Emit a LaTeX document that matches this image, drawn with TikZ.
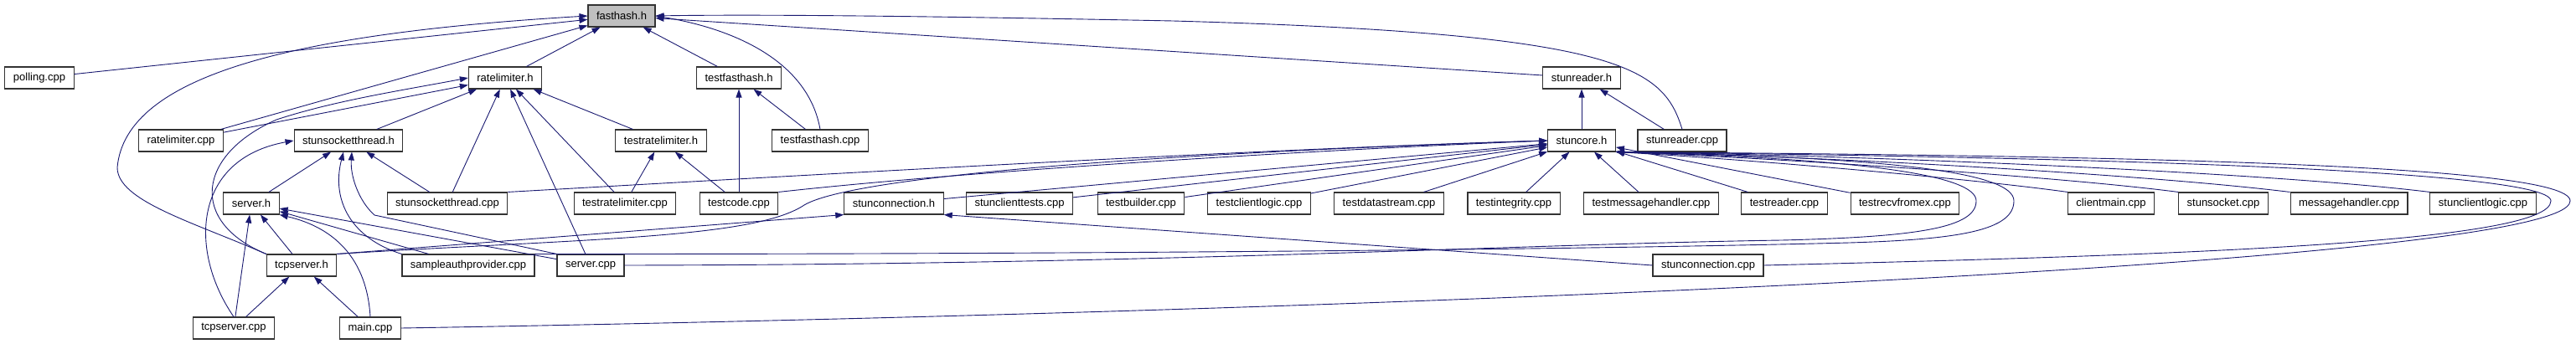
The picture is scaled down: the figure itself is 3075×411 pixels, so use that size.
\documentclass[tikz,border=0pt]{standalone}
\usepackage{fontspec}
\setmainfont{Liberation Sans}
\usetikzlibrary{arrows.meta}
\definecolor{depblue}{HTML}{191970}
\tikzset{
  file/.style={draw=black!80,line width=1.1pt,fill=white,minimum height=26pt,
    inner xsep=10pt,inner ysep=0pt,font=\fontsize{13}{15}\selectfont},
  cur/.style={file,fill=black!25},
  dep/.style={draw=depblue,line width=0.9pt,-{Triangle[length=10pt,width=7pt]}},
}

\begin{document}
\begin{tikzpicture}[x=1pt,y=-1pt]
  \useasboundingbox (0,0) rectangle (3075,411);

  \node[cur]  (fasthash) at (742,19) {fasthash.h};

  \node[file] (polling)   at (47,93)   {polling.cpp};
  \node[file] (ratelimh)  at (603,93)  {ratelimiter.h};
  \node[file] (testfhh)   at (882,93)  {testfasthash.h};
  \node[file] (stunreadh) at (1888,93) {stunreader.h};

  \node[file] (ratelimcpp)  at (216,168)  {ratelimiter.cpp};
  \node[file] (sockthrh)    at (416,168)  {stunsocketthread.h};
  \node[file] (testrlh)     at (789,168)  {testratelimiter.h};
  \node[file] (testfhcpp)   at (979,168)  {testfasthash.cpp};
  \node[file] (stuncore)    at (1888,168) {stuncore.h};
  \node[file] (stunreadcpp) at (2008,168) {stunreader.cpp};

  \node[file] (serverh)         at (300,243)  {server.h};
  \node[file] (sockthrcpp)      at (534,243)  {stunsocketthread.cpp};
  \node[file] (testrlcpp)       at (746,243)  {testratelimiter.cpp};
  \node[file] (testcode)        at (882,243)  {testcode.cpp};
  \node[file] (stunconnh)       at (1067,243) {stunconnection.h};
  \node[file] (clienttests)     at (1217,243) {stunclienttests.cpp};
  \node[file] (testbuilder)     at (1362,243) {testbuilder.cpp};
  \node[file] (testclientlogic) at (1503,243) {testclientlogic.cpp};
  \node[file] (testdatastream)  at (1658,243) {testdatastream.cpp};
  \node[file] (testintegrity)   at (1807,243) {testintegrity.cpp};
  \node[file] (testmsghandler)  at (1971,243) {testmessagehandler.cpp};
  \node[file] (testreader)      at (2130,243) {testreader.cpp};
  \node[file] (testrecv)        at (2274,243) {testrecvfromex.cpp};
  \node[file] (clientmain)      at (2520,243) {clientmain.cpp};
  \node[file] (stunsocket)      at (2654,243) {stunsocket.cpp};
  \node[file] (msghandler)      at (2804,243) {messagehandler.cpp};
  \node[file] (clientlogic)     at (2964,243) {stunclientlogic.cpp};

  \node[file] (tcpserverh)  at (360,317)  {tcpserver.h};
  \node[file] (sampleauth)  at (559,317)  {sampleauthprovider.cpp};
  \node[file] (servercpp)   at (705,317)  {server.cpp};
  \node[file] (stunconncpp) at (2039,317) {stunconnection.cpp};

  \node[file] (tcpservercpp) at (279,392) {tcpserver.cpp};
  \node[file] (maincpp)      at (442,392) {main.cpp};

  % fasthash.h
  \draw[dep] (polling) -- (fasthash);
  \draw[dep] (ratelimcpp) -- (fasthash);
  \draw[dep] (ratelimh) -- (fasthash);
  \draw[dep] (testfhh) -- (fasthash);
  \draw[dep] (stunreadh) -- (fasthash);
  \draw[dep] (tcpserverh.north west) .. controls (230,265) and (140,240) .. (140,200)
    .. controls (150,90) and (350,40) .. (fasthash.west);
  \draw[dep] (testfhcpp.north) .. controls (965,75) and (880,35) .. (fasthash.east);
  \draw[dep] (stunreadcpp.north) .. controls (1985,80) and (1935,40) .. (1400,25)
    .. controls (1100,19) and (900,17) .. (fasthash.east);

  % ratelimiter.h
  \draw[dep] (ratelimcpp) -- (ratelimh);
  \draw[dep] (sockthrh) -- (ratelimh);
  \draw[dep] (sockthrcpp) -- (ratelimh);
  \draw[dep] (servercpp) -- (ratelimh);
  \draw[dep] (testrlcpp) -- (ratelimh);
  \draw[dep] (testrlh) -- (ratelimh);
  \draw[dep] (tcpserverh.north west) .. controls (225,265) and (235,185) .. (330,143)
    .. controls (400,120) and (480,108) .. (ratelimh.west);

  % tests
  \draw[dep] (testrlcpp) -- (testrlh);
  \draw[dep] (testcode) -- (testrlh);
  \draw[dep] (testcode) -- (testfhh);
  \draw[dep] (testfhcpp) -- (testfhh);

  % stunsocketthread.h
  \draw[dep] (sockthrcpp) -- (sockthrh);
  \draw[dep] (serverh) -- (sockthrh);
  \draw[dep] (sampleauth.north west) .. controls (420,285) and (395,240)
    .. ([xshift=-6pt]sockthrh.south);
  \draw[dep] (servercpp.north west) -- (447,257) .. controls (428,240) and (418,210)
    .. ([xshift=4pt]sockthrh.south);
  \draw[dep] (tcpservercpp.north) .. controls (225,300) and (230,190) .. (sockthrh.west);

  % server.h, tcpserver.h
  \draw[dep] (tcpservercpp) -- (serverh);
  \draw[dep] (tcpserverh) -- (serverh);
  \draw[dep] (sampleauth) -- (serverh);
  \draw[dep] (servercpp) -- (serverh);
  \draw[dep] (maincpp.north) .. controls (438,310) and (400,272) .. (serverh.south east);
  \draw[dep] (tcpservercpp) -- (tcpserverh);
  \draw[dep] (maincpp) -- (tcpserverh);

  % stunreader.h, stunconnection.h
  \draw[dep] (stuncore) -- (stunreadh);
  \draw[dep] (stunreadcpp) -- (stunreadh);
  \draw[dep] (tcpserverh.north east) -- (stunconnh.south west);
  \draw[dep] (stunconncpp.west) -- (stunconnh.south east);

  % stuncore.h
  \draw[dep] (tcpserverh.north east) .. controls (700,285) and (900,285) .. (960,245)
    .. controls (1010,215) and (1300,186) .. (stuncore.west);
  \draw[dep] (sockthrcpp.north east) .. controls (950,210) and (1500,178) .. (stuncore.west);
  \draw[dep] (testcode.north east) .. controls (1150,205) and (1550,180) .. (stuncore.west);
  \draw[dep] (stunconnh) -- (stuncore);
  \draw[dep] (clienttests) -- (stuncore);
  \draw[dep] (testbuilder) -- (stuncore);
  \draw[dep] (testclientlogic) -- (stuncore);
  \draw[dep] (testdatastream) -- (stuncore);
  \draw[dep] (testintegrity) -- (stuncore);
  \draw[dep] (testmsghandler) -- (stuncore);
  \draw[dep] (testreader) -- (stuncore);
  \draw[dep] (testrecv) -- (stuncore);
  \draw[dep] (clientmain.north west) .. controls (2350,213) and (2080,190) .. (stuncore.south east);
  \draw[dep] (stunsocket.north west) .. controls (2450,210) and (2100,188) .. (stuncore.south east);
  \draw[dep] (msghandler.north west) .. controls (2550,207) and (2150,186) .. (stuncore.south east);
  \draw[dep] (clientlogic.north west) .. controls (2700,205) and (2200,185) .. (stuncore.south east);
  \draw[dep] (sampleauth.north east) .. controls (1300,304) and (1900,298) .. (2208,290)
    .. controls (2340,286) and (2404,275) .. (2404,240)
    .. controls (2404,205) and (2250,188) .. (stuncore.south east);
  \draw[dep] (servercpp.east) .. controls (1400,316) and (1800,292) .. (2127,287)
    .. controls (2290,283) and (2359,272) .. (2359,240)
    .. controls (2359,210) and (2230,190) .. (stuncore.south east);
  \draw[dep] (stunconncpp.east) .. controls (2600,305) and (3045,290) .. (3045,240)
    .. controls (3045,200) and (2400,187) .. (stuncore.south east);
  \draw[dep] (maincpp.east) .. controls (1500,375) and (3068,320) .. (3068,240)
    .. controls (3068,195) and (2500,186) .. (stuncore.south east);
\end{tikzpicture}
\end{document}
